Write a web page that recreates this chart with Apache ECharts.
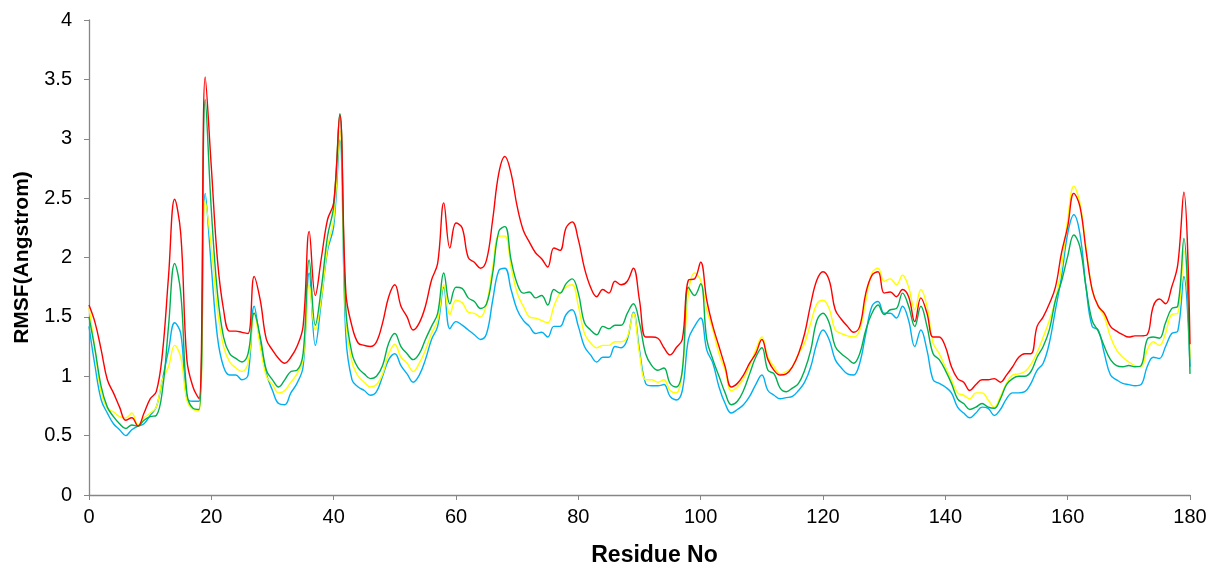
<!DOCTYPE html>
<html>
<head>
<meta charset="utf-8">
<script src="https://cdn.jsdelivr.net/npm/echarts@6/dist/echarts.min.js"></script>
<style>
  html, body { margin: 0; padding: 0; background: #fff; }
  #chart { width: 1209px; height: 563px; }
</style>
</head>
<body>
<div id="chart"></div>
<script>
// RMSF per residue, 0..180
const redRmsf = [
  1.6, 1.45, 1.22, 0.97, 0.86, 0.74, 0.63, 0.65, 0.58, 0.69,
  0.81, 0.87, 1.19, 1.84, 2.49, 2.2, 1.14, 0.91, 0.81, 3.52,
  2.76, 1.98, 1.56, 1.38, 1.38, 1.37, 1.36, 1.84, 1.64, 1.31,
  1.22, 1.15, 1.11, 1.16, 1.25, 1.42, 2.22, 1.68, 2.0, 2.32,
  2.46, 3.2, 1.7, 1.42, 1.28, 1.26, 1.25, 1.29, 1.45, 1.67,
  1.77, 1.59, 1.5, 1.39, 1.45, 1.59, 1.81, 1.95, 2.46, 2.08,
  2.29, 2.25, 2.0, 1.96, 1.91, 1.98, 2.32, 2.71, 2.85, 2.71,
  2.43, 2.23, 2.13, 2.04, 1.99, 1.92, 2.08, 2.06, 2.25, 2.3,
  2.15, 1.91, 1.75, 1.67, 1.73, 1.7, 1.8, 1.77, 1.8, 1.91,
  1.64, 1.33, 1.33, 1.32, 1.24, 1.18, 1.24, 1.31, 1.81, 1.82,
  1.96, 1.64, 1.42, 1.25, 1.08, 0.91, 0.94, 1.01, 1.11, 1.19,
  1.31, 1.14, 1.05, 1.01, 1.02, 1.08, 1.19, 1.36, 1.61, 1.81,
  1.88, 1.81, 1.56, 1.48, 1.42, 1.37, 1.42, 1.7, 1.85, 1.88,
  1.7, 1.71, 1.67, 1.73, 1.67, 1.46, 1.66, 1.53, 1.33, 1.33,
  1.25, 1.08, 0.98, 0.95, 0.88, 0.93, 0.97, 0.97, 0.98, 0.95,
  1.01, 1.08, 1.16, 1.19, 1.19, 1.42, 1.5, 1.61, 1.75, 2.04,
  2.26, 2.54, 2.43, 2.06, 1.73, 1.59, 1.53, 1.42, 1.38, 1.35,
  1.33, 1.34, 1.34, 1.35, 1.59, 1.65, 1.61, 1.75, 1.94, 2.55,
  1.27
];
const greenRmsf = [
  1.5, 1.22, 0.91, 0.74, 0.66, 0.6, 0.56, 0.59, 0.58, 0.63,
  0.66, 0.67, 0.88, 1.42, 1.95, 1.7, 0.86, 0.73, 0.72, 3.33,
  2.4, 1.7, 1.33, 1.19, 1.15, 1.12, 1.19, 1.53, 1.33, 1.05,
  0.97, 0.91, 0.97, 1.04, 1.05, 1.19, 1.98, 1.43, 1.75, 2.18,
  2.43, 3.21, 1.56, 1.19, 1.07, 1.02, 0.98, 1.0, 1.09, 1.28,
  1.36, 1.25, 1.19, 1.14, 1.19, 1.31, 1.42, 1.53, 1.87, 1.61,
  1.75, 1.74, 1.66, 1.63, 1.57, 1.61, 1.87, 2.22, 2.26, 1.98,
  1.78, 1.7, 1.71, 1.66, 1.68, 1.6, 1.73, 1.7, 1.78, 1.82,
  1.7, 1.45, 1.39, 1.35, 1.42, 1.4, 1.43, 1.43, 1.53, 1.61,
  1.45, 1.19, 1.09, 1.05, 1.07, 0.94, 0.91, 1.05, 1.75, 1.68,
  1.78, 1.31, 1.14, 1.0, 0.86, 0.76, 0.79, 0.88, 1.02, 1.16,
  1.24, 1.05, 1.02, 0.9, 0.87, 0.9, 0.94, 1.05, 1.22, 1.47,
  1.53, 1.45, 1.25, 1.19, 1.15, 1.11, 1.19, 1.39, 1.53, 1.6,
  1.52, 1.56, 1.57, 1.7, 1.59, 1.42, 1.59, 1.42, 1.19, 1.14,
  1.05, 0.94, 0.81, 0.77, 0.72, 0.74, 0.77, 0.74, 0.73, 0.81,
  0.93, 0.98, 1.0, 1.0, 1.04, 1.16, 1.25, 1.39, 1.64, 1.8,
  2.01, 2.19, 2.09, 1.75, 1.47, 1.38, 1.25, 1.14, 1.09, 1.08,
  1.09, 1.08, 1.09, 1.31, 1.33, 1.32, 1.45, 1.57, 1.59, 2.16,
  1.02
];
const yellowRmsf = [
  1.58, 1.22, 0.86, 0.73, 0.7, 0.66, 0.65, 0.69, 0.59, 0.65,
  0.69, 0.74, 0.97, 1.08, 1.26, 1.16, 0.8, 0.72, 0.71, 2.48,
  2.09, 1.56, 1.25, 1.12, 1.07, 1.04, 1.11, 1.53, 1.25, 1.0,
  0.93, 0.86, 0.88, 0.95, 1.02, 1.14, 1.77, 1.39, 1.67, 2.09,
  2.32, 3.07, 1.47, 1.12, 1.0, 0.95, 0.91, 0.93, 1.02, 1.19,
  1.27, 1.16, 1.11, 1.04, 1.11, 1.22, 1.36, 1.47, 1.77, 1.52,
  1.64, 1.62, 1.54, 1.53, 1.5, 1.61, 1.92, 2.18, 2.18, 1.92,
  1.7, 1.59, 1.5, 1.49, 1.47, 1.45, 1.59, 1.7, 1.75, 1.77,
  1.59, 1.36, 1.28, 1.24, 1.26, 1.26, 1.29, 1.29, 1.33, 1.53,
  1.19, 0.97, 0.97, 0.95, 0.97, 0.88, 0.86, 1.05, 1.7, 1.87,
  1.81, 1.56, 1.39, 1.19, 1.05, 0.88, 0.91, 0.98, 1.09, 1.22,
  1.33, 1.16, 1.08, 1.02, 1.04, 1.08, 1.19, 1.28, 1.45, 1.61,
  1.64, 1.57, 1.39, 1.36, 1.34, 1.33, 1.39, 1.64, 1.87, 1.91,
  1.8, 1.82, 1.77, 1.85, 1.75, 1.56, 1.73, 1.59, 1.28, 1.19,
  1.08, 0.97, 0.86, 0.84, 0.81, 0.86, 0.86, 0.8, 0.74, 0.83,
  0.94, 1.01, 1.02, 1.04, 1.1, 1.2, 1.33, 1.47, 1.64, 1.92,
  2.32, 2.6, 2.46, 2.09, 1.73, 1.59, 1.5, 1.33, 1.22, 1.16,
  1.12, 1.09, 1.08, 1.22, 1.29, 1.26, 1.36, 1.52, 1.53, 2.06,
  1.15
];
const blueRmsf = [
  1.42, 1.08, 0.8, 0.69, 0.6, 0.55, 0.5, 0.55, 0.58, 0.6,
  0.67, 0.74, 0.97, 1.22, 1.45, 1.36, 0.81, 0.79, 0.79, 2.54,
  1.92, 1.33, 1.08, 1.01, 1.01, 0.97, 1.01, 1.59, 1.28, 1.02,
  0.88, 0.77, 0.76, 0.86, 0.94, 1.08, 1.87, 1.26, 1.64, 2.06,
  2.26, 2.99, 1.33, 0.97, 0.91, 0.88, 0.84, 0.87, 1.0, 1.14,
  1.19, 1.09, 1.02, 0.95, 1.01, 1.14, 1.31, 1.42, 1.75, 1.4,
  1.46, 1.43, 1.39, 1.35, 1.31, 1.36, 1.64, 1.89, 1.91, 1.73,
  1.56, 1.47, 1.42, 1.36, 1.37, 1.33, 1.42, 1.42, 1.52, 1.56,
  1.42, 1.25, 1.18, 1.12, 1.16, 1.16, 1.25, 1.24, 1.31, 1.54,
  1.22, 0.94, 0.92, 0.92, 0.93, 0.83, 0.8, 0.88, 1.31, 1.42,
  1.49, 1.22, 1.11, 0.91, 0.77, 0.69, 0.72, 0.76, 0.83, 0.93,
  1.01, 0.88, 0.84, 0.81, 0.82, 0.83, 0.88, 0.95, 1.08, 1.28,
  1.39, 1.31, 1.14, 1.07, 1.02, 1.01, 1.11, 1.36, 1.59, 1.63,
  1.53, 1.53, 1.49, 1.59, 1.47, 1.25, 1.39, 1.22, 0.97, 0.94,
  0.91, 0.86, 0.74, 0.69, 0.65, 0.69, 0.74, 0.73, 0.67, 0.72,
  0.81, 0.86, 0.86, 0.87, 0.94, 1.05, 1.11, 1.28, 1.56, 1.84,
  2.2, 2.36, 2.2, 1.75, 1.42, 1.39, 1.19, 1.01, 0.97, 0.94,
  0.93, 0.92, 0.93, 1.08, 1.16, 1.15, 1.25, 1.36, 1.38, 1.84,
  1.08
];

const residues = redRmsf.map((_, i) => i);
const pairs = arr => arr.map((v, i) => [residues[i], v]);

const axisGrey = '#868686';
const font = '"Liberation Sans", Arial, sans-serif';

function line(name, color, data) {
  return {
    name: name,
    type: 'line',
    data: pairs(data),
    smooth: 0.4,
    showSymbol: false,
    lineStyle: { color: color, width: 1.4 },
    itemStyle: { color: color },
    animation: false
  };
}

const chart = echarts.init(document.getElementById('chart'));
chart.setOption({
  backgroundColor: '#fff',
  grid: { left: 89, right: 19, top: 20, bottom: 68, outerBoundsMode: 'none', containLabel: false },
  xAxis: {
    type: 'value',
    min: 0,
    max: 180,
    interval: 20,
    name: 'Residue No',
    nameLocation: 'middle',
    nameGap: 49,
    nameTextStyle: {
      fontFamily: font, fontSize: 23, fontWeight: 'bold', color: '#000',
      padding: [0, 0, 0, 30]
    },
    axisLine: { lineStyle: { color: axisGrey, width: 1.3 } },
    axisTick: { show: true, inside: false, length: 5, lineStyle: { color: axisGrey } },
    axisLabel: { fontFamily: font, fontSize: 20, color: '#000', margin: 12 },
    splitLine: { show: false }
  },
  yAxis: {
    type: 'value',
    min: 0,
    max: 4,
    interval: 0.5,
    name: 'RMSF(Angstrom)',
    nameLocation: 'middle',
    nameGap: 56,
    nameRotate: 90,
    nameTextStyle: { fontFamily: font, fontSize: 21, fontWeight: 'bold', color: '#000' },
    axisLine: { show: true, lineStyle: { color: axisGrey, width: 1.3 } },
    axisTick: { show: true, inside: false, length: 5, lineStyle: { color: axisGrey } },
    axisLabel: { fontFamily: font, fontSize: 20, color: '#000', margin: 17 },
    splitLine: { show: false }
  },
  series: [
    line('blue', '#00B0F0', blueRmsf),
    line('yellow', '#FFFF00', yellowRmsf),
    line('green', '#00B050', greenRmsf),
    line('red', '#FF0000', redRmsf)
  ]
});
</script>
</body>
</html>
